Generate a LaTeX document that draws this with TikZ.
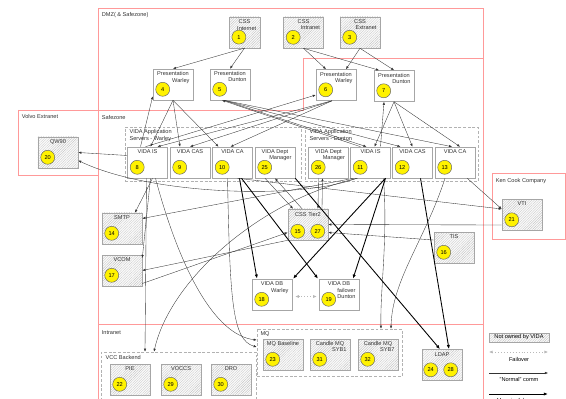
\documentclass[tikz,border=0pt]{standalone}
\usepackage{fontspec}
\setmainfont{Liberation Sans}
\usetikzlibrary{arrows.meta,patterns.meta}

\begin{document}
\begin{tikzpicture}[
    x=0.03cm, y=-0.03cm,
    font=\fontsize{4.8}{5.6}\selectfont,
    box/.style={draw=gray!70, fill=white, line width=0.5pt, inner sep=0pt,
                minimum width=1.2cm, minimum height=0.93cm},
    hatched/.style={box, preaction={fill=gray!4},
                    pattern={Lines[angle=45,distance=1.5pt,line width=0.2pt]},
                    pattern color=gray!55},
    narrowhatched/.style={hatched, minimum width=0.93cm},
    head/.style={inner sep=0.5pt, anchor=north, text=black!80},
    sub/.style={inner sep=0.5pt, anchor=north east, align=right, text=black!80},
    badge/.style={circle, draw=black!60, fill=yellow, inner sep=0pt, minimum size=0.42cm},
    group/.style={draw=gray!60, dash pattern=on 2.5pt off 1.5pt, line width=0.5pt, inner sep=0pt},
    zone/.style={draw=red!40, line width=0.6pt},
    tag/.style={inner sep=0.5pt, anchor=north west, align=left, text=black!80},
    conn/.style={draw=black!80, line width=0.3pt, -{Latex[length=2.6pt,width=2pt]}},
    heavy/.style={draw=black, line width=0.75pt, -{Latex[length=3.6pt,width=2.8pt]}},
    failover/.style={draw=gray!55, dotted, line width=0.5pt,
                     {Latex[length=3pt,width=2.6pt]}-{Latex[length=3pt,width=2.6pt]}}
    ]

    \useasboundingbox (0,0) rectangle (566,399);

    % zones
    \draw[zone] (98,8) rectangle (483,420);
    \draw[zone] (18,110) -- (303,110) -- (303,58) -- (483,58);
    \draw[zone] (18,110) -- (18,175) -- (98,175);
    \draw[zone] (98,324) -- (483,324);
    \draw[zone] (492,173) rectangle (565.5,239);

    \node[tag] (dmz) at (101,12) {DMZ( \& Safezone)};
    \node[tag] (safe) at (101,115) {Safezone};
    \node[tag] (volvo) at (21,114) {Volvo Extranet};
    \node[tag] (kencook) at (495,178) {Ken Cook Company};
    \node[tag] (intra) at (101,330) {Intranet};

    % groups
    \node[group, minimum width=5.28cm, minimum height=1.62cm] (warley) at (213,154) {};
    \node[group, minimum width=5.19cm, minimum height=1.62cm] (dunton) at (391.5,154) {};
    \node[group, minimum width=4.65cm, minimum height=1.56cm] (vcc) at (178.5,378) {};
    \node[group, minimum width=4.35cm, minimum height=1.41cm] (mq) at (329.5,352.5) {};

    \node[tag] (warley-l) at ([shift={(4,2)}]warley.north west) {VIDA Application\\Servers - Warley};
    \node[tag] (dunton-l) at ([shift={(4,2)}]dunton.north west) {VIDA Application\\Servers - Dunton};
    \node[tag] (vcc-l) at ([shift={(4,3)}]vcc.north west) {VCC Backend};
    \node[tag] (mq-l) at ([shift={(3,2)}]mq.north west) {MQ};

    % boxes with one badge
    \foreach \n/\x/\y/\s/\t/\u/\k in {
        css1/244.5/32.5/narrowhatched/CSS/Internet/1,
        css2/303.5/32.5/hatched/CSS/Intranet/2,
        css3/360/32.5/hatched/CSS/Extranet/3,
        pres4/173/84.5/box/Presentation/Warley/4,
        pres5/230/84.5/box/Presentation/Dunton/5,
        pres6/336/85/box/Presentation/Warley/6,
        pres7/394/86/box/Presentation/Dunton/7,
        is8/147.5/162.5/box/VIDA IS//8,
        cas9/190/162.5/box/VIDA CAS//9,
        ca10/232.5/162.5/box/VIDA CA//10,
        dm25/275/162.5/box/VIDA Dept/Manager/25,
        dm26/328.5/162.5/box/VIDA Dept/Manager/26,
        is11/370.5/162.5/box/VIDA IS//11,
        cas12/412.5/162.5/box/VIDA CAS//12,
        ca13/455/162.5/box/VIDA CA//13,
        qw20/58/152.5/hatched/QW90//20,
        smtp14/122/228.5/hatched/SMTP//14,
        vcom17/122/270.5/hatched/VCOM//17,
        tis16/454/247.5/hatched/TIS//16,
        vti21/522/215/hatched/VTI//21,
        db18/272/294.5/box/VIDA DB/Warley/18,
        db19/339/294.5/box/VIDA DB/failover\\Dunton/19,
        pie22/130/379.5/hatched/PIE//22,
        voccs29/181/379.5/hatched/VOCCS//29,
        dro30/231/379.5/hatched/DRO//30,
        mq23/283/354.5/hatched/MQ Baseline//23,
        syb31/330/354.5/hatched/Candle MQ/SYB1/31,
        syb32/378/354.5/hatched/Candle MQ/SYB7/32}
      {\node[\s] (\n) at (\x,\y) {};
        \node[head] (\n-h) at ([shift={(0,2)}]\n.north) {\t};
        \node[sub] (\n-s) at ([shift={(-3,8.5)}]\n.north east) {\u};
        \node[badge] (\n-c) at ([shift={(10,-11)}]\n.south west) {\k};
      }

    % boxes with two badges
    \node[hatched] (tier2) at (308,224.5) {};
    \node[head] (tier2-h) at ([shift={(0,2.5)}]tier2.north) {CSS Tier2};
    \node[badge] (tier2-c15) at ([shift={(10,-9)}]tier2.south west) {15};
    \node[badge] (tier2-c27) at ([shift={(30,-9)}]tier2.south west) {27};

    \node[hatched] (ldap) at (442,365) {};
    \node[head] (ldap-h) at ([shift={(0,3)}]ldap.north) {LDAP};
    \node[badge] (ldap-c24) at ([shift={(9,-11)}]ldap.south west) {24};
    \node[badge] (ldap-c28) at ([shift={(29,-11)}]ldap.south west) {28};

    % css to presentation
    \draw[conn] (css1.south) -- (pres4.north);
    \draw[conn] (css1.south) -- (pres5.north);
    \draw[conn] (css2.south) -- ([shift={(-10,0)}]pres6.north);
    \draw[conn] (css2.south) -- ([shift={(-15,0)}]pres7.north);
    \draw[conn] (css3.south) -- ([shift={(10,0)}]pres6.north);
    \draw[conn] (css3.south) -- (pres7.north);

    % presentation to application servers
    \draw[conn] (pres4.south) -- ([shift={(3,0)}]is8.north);
    \draw[conn] (pres4.south) -- ([shift={(-10,0)}]cas9.north);
    \draw[conn] (pres4.south) -- ([shift={(-14,0)}]ca10.north);
    \draw[conn] ([shift={(-7,0)}]is8.north) -- ([shift={(0,-4)}]pres4.south west);
    \draw[conn] ([shift={(-4,0)}]pres6.south) -- ([shift={(10,0)}]is8.north);
    \draw[conn] ([shift={(-4,0)}]pres6.south) -- (cas9.north);
    \draw[conn] ([shift={(-4,0)}]pres6.south) -- ([shift={(-2,0)}]ca10.north);
    \draw[conn] ([shift={(-2,0)}]is8.north) -- ([shift={(0,10)}]pres6.west);

    \draw[conn] ([shift={(-6,0)}]pres5.south) -- ([shift={(-4,0)}]is11.north);
    \draw[conn] ([shift={(-6,0)}]pres5.south) -- ([shift={(-12,0)}]cas12.north);
    \draw[conn] ([shift={(-6,0)}]pres5.south) -- ([shift={(-3,0)}]ca13.north);
    \draw[conn] ([shift={(-10,0)}]is11.north) -- ([shift={(-8,0)}]pres5.south);
    \draw[conn] (pres7.south) -- ([shift={(4,0)}]is11.north);
    \draw[conn] (pres7.south) -- (cas12.north);
    \draw[conn] (pres7.south) -- ([shift={(5,0)}]ca13.north);
    \draw[conn] ([shift={(10,0)}]is11.north) -- ([shift={(-10,0)}]pres7.south);

    % external systems
    \draw[conn] ([shift={(0,-7)}]is8.west) -- (qw20.east);
    \draw[conn] ([shift={(-14,0)}]is11.south) .. controls (300,200) and (150,195) .. ([shift={(0,8)}]qw20.east);
    \draw[conn] ([shift={(5,0)}]ca10.south) -- ([shift={(0,-6)}]vti21.west);
    \draw[conn] ([shift={(-8,0)}]ca13.south east) -- ([shift={(0,-6)}]vti21.west);
    \draw[conn] ([shift={(0,10)}]vti21.west) -- (tier2.east);
    \draw[conn] ([shift={(0,-7.5)}]tis16.west) -- ([shift={(0,8)}]tier2.east);

    % css tier2
    \draw[conn] ([shift={(-10,0)}]dm25.south) -- ([shift={(-15,0)}]tier2.north);
    \draw[conn] ([shift={(-6,0)}]tier2.north) -- (dm25.south);
    \draw[conn] ([shift={(14,0)}]tier2.north) -- ([shift={(-6,0)}]dm26.south);
    \draw[conn] ([shift={(-10,0)}]dm26.south) -- ([shift={(10,0)}]tier2.north);

    % smtp, vcom
    \draw[conn] ([shift={(5,0)}]is8.south) -- ([shift={(13,0)}]smtp14.north);
    \draw[conn] ([shift={(-17,0)}]is11.south) -- ([shift={(0,-10)}]smtp14.east);
    \draw[conn] ([shift={(3,0)}]is8.south) -- ([shift={(0,-12.5)}]vcom17.east);
    \draw[conn] (tier2.south west) -- (vcom17.east);
    \draw[conn] ([shift={(0,13)}]vcom17.east) -- ([shift={(0,8)}]tier2.west);

    % intranet
    \draw[conn] ([shift={(-1,0)}]is8.south) -- ([shift={(-33.5,0)}]vcc.north);
    \draw[conn] ([shift={(-13,0)}]is11.south) .. controls (260,200) and (170,280) .. ([shift={(-24.5,0)}]vcc.north);
    \draw[conn] ([shift={(8,0)}]is8.south) .. controls (180,270) and (215,335) .. ([shift={(0,-12.5)}]mq.west);
    \draw[conn] ([shift={(-5,0)}]ca10.south) .. controls (230,300) and (232,340) .. ([shift={(0,-5.5)}]mq.west);
    \draw[conn] ([shift={(13,0)}]is11.south) .. controls (388,240) and (380,290) .. ([shift={(51.5,0)}]mq.north);
    \draw[conn] ([shift={(-10,0)}]ca13.south) .. controls (425,240) and (392,280) .. ([shift={(61.5,0)}]mq.north);

    % heavy traffic
    \draw[heavy] ([shift={(7,0)}]ca10.south) -- ([shift={(-15,0)}]db18.north);
    \draw[heavy] ([shift={(9,0)}]ca10.south) -- ([shift={(-21,0)}]db19.north);
    \draw[heavy] ([shift={(15,0)}]is11.south) -- ([shift={(21,0)}]db18.north);
    \draw[heavy] ([shift={(15,0)}]is11.south) -- ([shift={(14,0)}]db19.north);
    \draw[heavy] (dm25.south east) -- ([shift={(-2,0)}]ldap.north);
    \draw[heavy] ([shift={(8,0)}]cas12.south) -- ([shift={(7,0)}]ldap.north);

    \draw[failover] ([shift={(3,2)}]db18.east) -- ([shift={(-2,2)}]db19.west);

    % legend
    \node[hatched, minimum width=1.8cm, minimum height=0.27cm] (legend-ext) at (519,337.5) {Not owned by VIDA};
    \coordinate (fo-a) at (489,352);
    \coordinate (fo-b) at (548,352);
    \draw[failover] (fo-a) -- (fo-b);
    \node (fo-t) at (519,359) {Failover};
    \coordinate (nc-a) at (489,373);
    \coordinate (nc-b) at (548,373);
    \draw[conn] (nc-a) -- (nc-b);
    \node (nc-t) at (519,379.5) {"Normal" comm};
    \coordinate (hc-a) at (489,394);
    \coordinate (hc-b) at (548,394);
    \draw[heavy] (hc-a) -- (hc-b);
    \node (hc-t) at (519,401.5) {Meaningful comm};

  \end{tikzpicture}
\end{document}
